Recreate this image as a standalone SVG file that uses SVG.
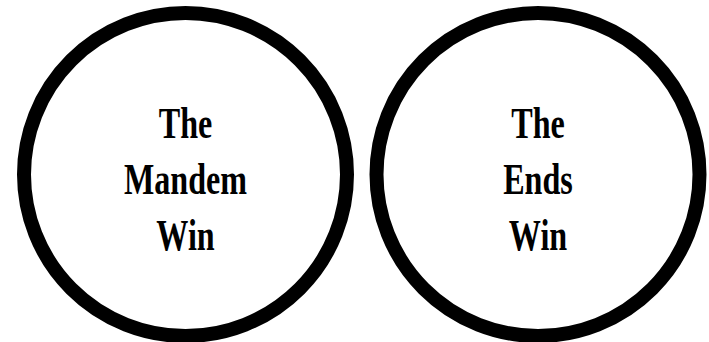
<svg xmlns="http://www.w3.org/2000/svg" width="709" height="342" viewBox="0 0 709 342">
<style>
.ring{fill:#fff;stroke:#000;stroke-width:14}
.lbl{font-family:"Liberation Serif","Times New Roman",serif;font-size:44px;font-weight:bold;fill:#000;text-anchor:middle}
</style>
<rect width="709" height="342" fill="#fff"/>
<g id="connectors"></g>
<g id="node-mandem">
<circle class="ring" cx="185.5" cy="174.5" r="161.5"/>
<g transform="translate(185.5,0) scale(0.73,1)">
<text class="lbl" x="0" y="138">The</text>
<text class="lbl" x="0" y="194">Mandem</text>
<text class="lbl" x="0" y="250">Win</text>
</g>
</g>
<g id="node-ends">
<circle class="ring" cx="538" cy="174.5" r="161.5"/>
<g transform="translate(538,0) scale(0.73,1)">
<text class="lbl" x="0" y="138">The</text>
<text class="lbl" x="0" y="194">Ends</text>
<text class="lbl" x="0" y="250">Win</text>
</g>
</g>
</svg>
